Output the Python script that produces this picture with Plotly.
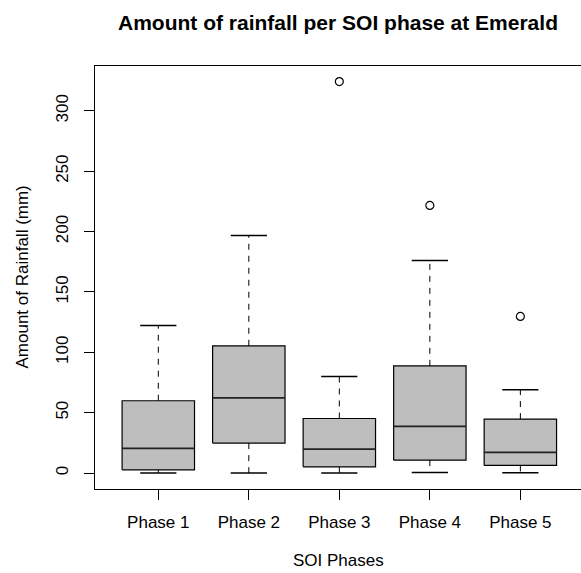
import plotly.graph_objects as go

phases = ["Phase 1", "Phase 2", "Phase 3", "Phase 4", "Phase 5"]
lower_whisker = [0.0, 0.0, 0.0, 0.5, 0.3]
q1 = [2.7, 24.8, 5.2, 10.7, 6.3]
median = [20.4, 62.3, 19.9, 38.6, 17.1]
q3 = [59.9, 105.4, 45.2, 88.8, 44.7]
upper_whisker = [122.2, 196.7, 80.0, 176.0, 69.0]
outlier_phase = ["Phase 3", "Phase 4", "Phase 5"]
outlier_value = [324.2, 221.6, 129.7]
y_ticks = [0, 50, 100, 150, 200, 250, 300]

FONT = "Liberation Sans, Arial, Helvetica, sans-serif"
BOX_HALF = 0.4
STAPLE_HALF = 0.2

fig = go.Figure()
pos = {p: i + 1 for i, p in enumerate(phases)}

for i, p in enumerate(phases):
    x = pos[p]
    # box body
    fig.add_trace(go.Scatter(
        x=[x - BOX_HALF, x + BOX_HALF, x + BOX_HALF, x - BOX_HALF, x - BOX_HALF],
        y=[q1[i], q1[i], q3[i], q3[i], q1[i]],
        mode="lines", fill="toself", fillcolor="#BEBEBE",
        line=dict(color="#000000", width=1.2), hoverinfo="skip", showlegend=False))
    # whiskers (dashed)
    fig.add_trace(go.Scatter(
        x=[x, x, None, x, x],
        y=[q3[i], upper_whisker[i], None, q1[i], lower_whisker[i]],
        mode="lines", line=dict(color="#000000", width=1, dash="6px,6px"),
        hoverinfo="skip", showlegend=False))
    # staples
    fig.add_trace(go.Scatter(
        x=[x - STAPLE_HALF, x + STAPLE_HALF, None, x - STAPLE_HALF, x + STAPLE_HALF],
        y=[upper_whisker[i], upper_whisker[i], None, lower_whisker[i], lower_whisker[i]],
        mode="lines", line=dict(color="#000000", width=1.6),
        hoverinfo="skip", showlegend=False))
    # median
    fig.add_trace(go.Scatter(
        x=[x - BOX_HALF, x + BOX_HALF], y=[median[i], median[i]],
        mode="lines", line=dict(color="#222222", width=1.8),
        hoverinfo="skip", showlegend=False))

fig.add_trace(go.Scatter(
    x=[pos[p] for p in outlier_phase], y=outlier_value, mode="markers",
    marker=dict(symbol="circle-open", size=8, color="#000000", line=dict(width=1.2)),
    hoverinfo="skip", showlegend=False))

fig.update_layout(
    width=581, height=573,
    margin=dict(l=95, r=0, t=66, b=84),
    paper_bgcolor="white", plot_bgcolor="white",
    font=dict(family=FONT, size=17, color="#000000"),
    title=dict(text="<b>Amount of rainfall per SOI phase at Emerald</b>",
               x=(338 / 581), xanchor="center", xref="container",
               y=1 - 23 / 573, yref="container", yanchor="middle",
               font=dict(family=FONT, size=21, color="#000000")),
    xaxis=dict(range=[0.3006, 5.670], tickvals=[1, 2, 3, 4, 5], ticktext=phases,
               showline=True, linecolor="#000000", linewidth=1, mirror=True,
               ticks="outside", ticklen=10, tickcolor="#000000", tickwidth=1,
               showgrid=False, zeroline=False, ticklabelstandoff=8,
               tickfont=dict(family=FONT, size=17)),
    yaxis=dict(range=[-13.2, 337.1], tickvals=y_ticks,
               showline=True, linecolor="#000000", linewidth=1, mirror=False,
               ticks="outside", ticklen=10, tickcolor="#000000", tickwidth=1,
               showgrid=False, zeroline=False, tickangle=-90, ticklabelstandoff=9,
               tickfont=dict(family=FONT, size=17)),
    annotations=[
        dict(text="Amount of Rainfall (mm)", textangle=-90, xref="paper", yref="paper",
             x=(22 - 95) / 486, y=0.5, xanchor="center", yanchor="middle",
             showarrow=False, font=dict(family=FONT, size=17)),
        dict(text="SOI Phases", xref="paper", yref="paper",
             x=(338.7 - 95) / 486, y=-(572 - 489) / 423, xanchor="center", yanchor="bottom",
             showarrow=False, font=dict(family=FONT, size=17)),
    ],
)

fig.write_html("out.html")
